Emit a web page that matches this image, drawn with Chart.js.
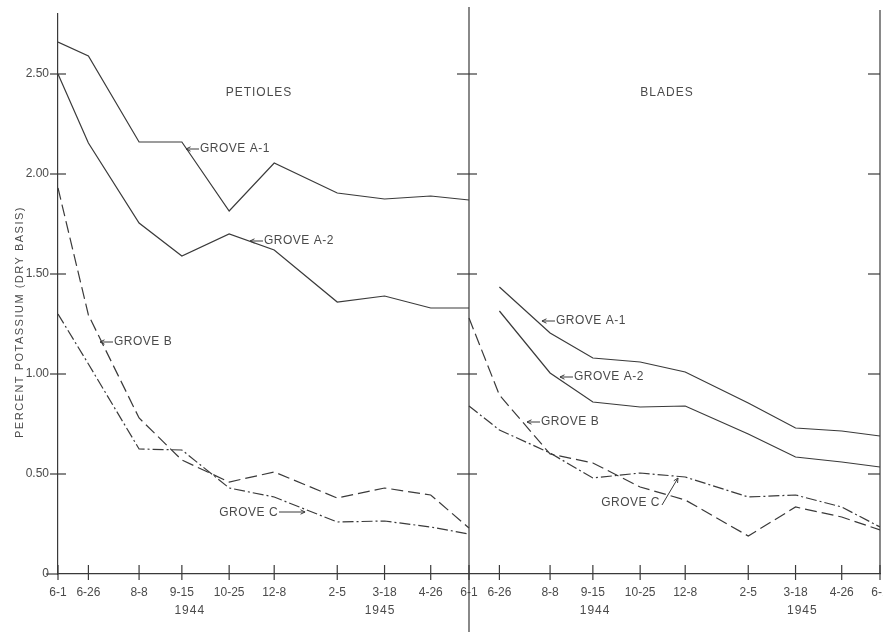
<!DOCTYPE html>
<html>
<head>
<meta charset="utf-8">
<script src="https://cdn.jsdelivr.net/npm/chart.js@4.4.0/dist/chart.umd.min.js"></script>
<style>
  html, body { margin: 0; padding: 0; background: #fff; }
  #wrap { width: 883px; height: 632px; }
</style>
</head>
<body>
<div id="wrap"><canvas id="chart" width="883" height="632"></canvas></div>
<script>
// sampling dates, placed by days after June 1 (as drawn in the figure)
const sampleDays = [0, 27, 72, 110, 152, 192, 248, 290, 331, 365];
const sampleDates = ['6-1', '6-26', '8-8', '9-15', '10-25', '12-8', '2-5', '3-18', '4-26', '6-1'];
const bladeOffset = 365; // blades panel starts where petioles panel ends

// percent potassium, petioles
const petiolesA1 = [2.66, 2.59, 2.16, 2.16, 1.815, 2.055, 1.905, 1.875, 1.89, 1.87];
const petiolesA2 = [2.50, 2.155, 1.755, 1.59, 1.70, 1.62, 1.36, 1.39, 1.33, 1.33];
const petiolesB  = [1.93, 1.295, 0.78, 0.57, 0.46, 0.51, 0.38, 0.43, 0.395, 0.23];
const petiolesC  = [1.30, 1.05, 0.625, 0.62, 0.43, 0.385, 0.26, 0.265, 0.235, 0.20];

// percent potassium, blades
const bladesA1 = [null, 1.435, 1.205, 1.08, 1.06, 1.01, 0.855, 0.73, 0.715, 0.69];
const bladesA2 = [null, 1.315, 1.005, 0.86, 0.835, 0.84, 0.70, 0.585, 0.56, 0.535];
const bladesB  = [1.28, 0.895, 0.60, 0.555, 0.435, 0.37, 0.19, 0.335, 0.285, 0.22];
const bladesC  = [0.84, 0.72, 0.605, 0.48, 0.505, 0.485, 0.385, 0.395, 0.335, 0.235];

// text on the plot (positions in data units)
const panelTitles = [
  { text: 'PETIOLES', x: 178.5, y: 2.405 },
  { text: 'BLADES', x: 540.8, y: 2.405 }
];
const yearLabels = [
  { text: '1944', x: 117 },
  { text: '1945', x: 286 },
  { text: '1944', x: 477 },
  { text: '1945', x: 661 }
];
const notes = [
  { text: 'GROVE A-1', x: 113.7, y: 2.125, kind: 'left' },
  { text: 'GROVE A-2', x: 170.5, y: 1.665, kind: 'left' },
  { text: 'GROVE B', x: 37.3, y: 1.16, kind: 'left' },
  { text: 'GROVE C', x: 219.4, y: 0.31, kind: 'right' },
  { text: 'GROVE A-1', x: 429.8, y: 1.265, kind: 'left' },
  { text: 'GROVE A-2', x: 445.8, y: 0.985, kind: 'left' },
  { text: 'GROVE B', x: 416.5, y: 0.76, kind: 'left' },
  { text: 'GROVE C', x: 550.6, y: 0.48, kind: 'diag' }
];
const yTitle = 'PERCENT POTASSIUM (DRY BASIS)';

const ink = '#3a3a3a';
const textInk = '#4a4a4a';
const font = '"Liberation Sans", Arial, sans-serif';
const solid = [];
const dashed = [12, 5];
const dashDot = [11, 3, 2, 3];

const tickDays = sampleDays.concat(sampleDays.slice(1).map(d => d + bladeOffset));
const tickLabels = sampleDates.concat(sampleDates.slice(1));

const toPoints = (values, offset) =>
  values.map((v, i) => ({ x: sampleDays[i] + offset, y: v })).filter(p => p.y !== null);

const series = [
  { label: 'Petioles A-1', data: toPoints(petiolesA1, 0), dash: solid },
  { label: 'Petioles A-2', data: toPoints(petiolesA2, 0), dash: solid },
  { label: 'Petioles B', data: toPoints(petiolesB, 0), dash: dashed },
  { label: 'Petioles C', data: toPoints(petiolesC, 0), dash: dashDot },
  { label: 'Blades A-1', data: toPoints(bladesA1, bladeOffset), dash: solid },
  { label: 'Blades A-2', data: toPoints(bladesA2, bladeOffset), dash: solid },
  { label: 'Blades B', data: toPoints(bladesB, bladeOffset), dash: dashed },
  { label: 'Blades C', data: toPoints(bladesC, bladeOffset), dash: dashDot }
];

// frame, cross ticks, divider and lettering
const decor = {
  id: 'decor',
  afterDraw(chart) {
    const { ctx, chartArea: a } = chart;
    const x = chart.scales.x, y = chart.scales.y;
    const line = (x1, y1, x2, y2) => {
      ctx.beginPath(); ctx.moveTo(x1, y1); ctx.lineTo(x2, y2); ctx.stroke();
    };
    const head = (tx, ty, ang) => {
      const s = 5;
      line(tx, ty, tx + s * Math.cos(ang + 0.45), ty + s * Math.sin(ang + 0.45));
      line(tx, ty, tx + s * Math.cos(ang - 0.45), ty + s * Math.sin(ang - 0.45));
    };
    ctx.save();
    ctx.strokeStyle = ink;
    ctx.lineWidth = 1.2;

    const xd = x.getPixelForValue(bladeOffset);
    const xr = x.getPixelForValue(bladeOffset * 2);
    line(xd, a.top - 7, xd, chart.height);
    line(xr, a.top - 4, xr, a.bottom);

    y.ticks.forEach(t => {
      const py = y.getPixelForValue(t.value);
      if (t.value === 0) {
        line(a.left - 12, py, a.left, py);
        return;
      }
      line(a.left - 8, py, a.left + 8, py);
      line(xd - 12, py, xd + 8, py);
      line(xr - 12, py, xr, py);
    });
    x.ticks.forEach(t => {
      const px = x.getPixelForValue(t.value);
      line(px, a.bottom - 9, px, a.bottom + 6);
    });

    ctx.fillStyle = textInk;
    ctx.textBaseline = 'middle';
    ctx.font = '12px ' + font;
    ctx.letterSpacing = '1px';
    ctx.textAlign = 'center';
    panelTitles.forEach(p => ctx.fillText(p.text, x.getPixelForValue(p.x), y.getPixelForValue(p.y)));
    yearLabels.forEach(p => ctx.fillText(p.text, x.getPixelForValue(p.x), a.bottom + 37));

    ctx.letterSpacing = '0.5px';
    ctx.lineWidth = 1;
    notes.forEach(n => {
      const tx = x.getPixelForValue(n.x), ty = y.getPixelForValue(n.y);
      if (n.kind === 'left') {
        line(tx, ty, tx + 13, ty);
        head(tx, ty, 0);
        ctx.textAlign = 'left';
        ctx.fillText(n.text, tx + 14, ty);
      } else if (n.kind === 'right') {
        line(tx - 26, ty, tx, ty);
        head(tx, ty, Math.PI);
        ctx.textAlign = 'right';
        ctx.fillText(n.text, tx - 27, ty + 1);
      } else {
        line(tx - 16, ty + 27, tx, ty);
        head(tx, ty, Math.atan2(27, -16));
        ctx.textAlign = 'right';
        ctx.fillText(n.text, tx - 18, ty + 25);
      }
    });

    ctx.letterSpacing = '1.5px';
    ctx.font = '11px ' + font;
    ctx.translate(20, y.getPixelForValue(1.26));
    ctx.rotate(-Math.PI / 2);
    ctx.textAlign = 'center';
    ctx.fillText(yTitle, 0, 0);
    ctx.restore();
  }
};

new Chart(document.getElementById('chart'), {
  type: 'line',
  data: {
    datasets: series.map(s => ({
      label: s.label,
      data: s.data,
      borderColor: ink,
      borderWidth: 1.2,
      borderDash: s.dash,
      pointRadius: 0,
      tension: 0,
      fill: false
    }))
  },
  options: {
    responsive: false,
    animation: false,
    layout: { padding: { top: 14, right: 3, left: 0, bottom: 0 } },
    plugins: { legend: { display: false }, tooltip: { enabled: false } },
    scales: {
      x: {
        type: 'linear',
        min: 0,
        max: bladeOffset * 2,
        grid: { display: false, drawTicks: false },
        border: { display: true, color: ink, width: 1.2 },
        afterBuildTicks: scale => { scale.ticks = tickDays.map(v => ({ value: v })); },
        afterFit: scale => {
          scale.height = 58;
          scale.paddingLeft = 0;
          scale.paddingRight = 0;
        },
        ticks: {
          autoSkip: false,
          maxRotation: 0,
          padding: 11,
          color: textInk,
          font: { family: font, size: 12 },
          callback: (value, index) => tickLabels[index]
        }
      },
      y: {
        min: 0,
        max: 2.8,
        grid: { display: false, drawTicks: false },
        border: { display: true, color: ink, width: 1.2 },
        afterFit: scale => {
          scale.width = 58;
          scale.paddingTop = 0;
          scale.paddingBottom = 0;
        },
        ticks: {
          stepSize: 0.5,
          includeBounds: false,
          padding: 9,
          color: textInk,
          font: { family: font, size: 12 },
          callback: v => (v === 0 ? '0' : v.toFixed(2))
        }
      }
    }
  },
  plugins: [decor]
});
</script>
</body>
</html>
